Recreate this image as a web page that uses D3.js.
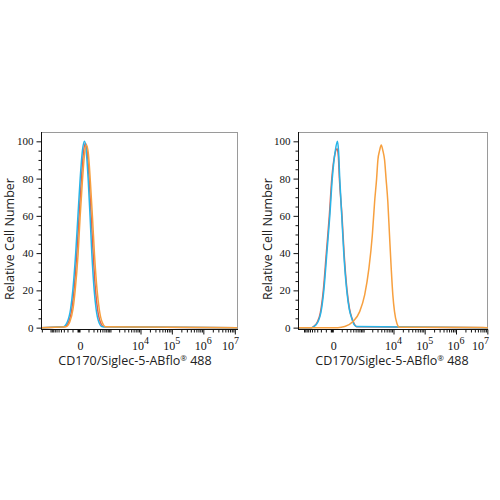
<!DOCTYPE html>
<html>
<head>
<meta charset="utf-8">
<script src="https://cdn.jsdelivr.net/npm/d3@7"></script>
<style>
  html, body { margin: 0; padding: 0; background: #fff; }
  svg { display: block; }
</style>
</head>
<body>
<svg id="chart" width="500" height="500"></svg>
<script>
// ---------- data ----------
const yMajorTicks = [0, 20, 40, 60, 80, 100];
const yMinorTicks = [5, 10, 15, 25, 30, 35, 45, 50, 55, 65, 70, 75, 85, 90, 95];
const xDecadeExponents = [4, 5, 6, 7];
const xTickBase = "10";
const xZeroLabel = "0";
const minorMultipliers = [2, 3, 4, 5, 6, 7, 8, 9];
const xTitle = "CD170/Siglec-5-ABflo";
const xTitleMark = "®";
const xTitleTail = " 488";
const yTitle = "Relative Cell Number";

// left panel
const leftBlueX  = [-2100, -317, -205, -134, -95, -53, -26, -3, 19, 43, 65, 94, 127, 162, 217, 268, 354, 485, 1.2e7];
const leftBlueY  = [0, 0.5, 3, 10, 20, 40, 60, 80, 95, 100, 95, 80, 60, 40, 20, 10, 3, 0.5, 0];
const leftRedX   = [-2100, -274, -175, -112, -77, -39, -15, 7, 30, 56, 81, 112, 150, 191, 251, 311, 410, 561, 1.2e7];
const leftRedY   = [0, 0.5, 3, 10, 20, 40, 59, 79, 94, 99, 94, 79, 59, 40, 20, 10, 3, 0.5, 0];
const leftOrangeX = [-2100, -238, -150, -92, -60, -25, -4, 18, 43, 69, 99, 134, 177, 225, 298, 369, 485, 669, 1.2e7];
const leftOrangeY = [0, 0.5, 3, 10, 20, 39, 59, 78, 93, 98, 93, 78, 59, 39, 20, 10, 3, 0.5, 0];

// right panel
const rightBlueX = [-1600, -503, -418, -280, -200, -136, -84, -43, -15, 15, 39, 52, 69, 100, 136, 200, 266, 344, 418, 535, 1.04e7];
const rightBlueY = [0, 0, 0.5, 3, 8, 20, 40, 60, 80, 95, 100, 95, 80, 60, 40, 20, 10, 5, 2, 0.6, 0];
const rightRedX  = [-1600, -525, -438, -295, -212, -146, -92, -49, -20, 10, 35, 50, 64, 104, 142, 207, 274, 354, 438, 551, 1.04e7];
const rightRedY  = [0, 0, 0.5, 3, 8, 20, 40, 60, 80, 93, 96, 92, 80, 60, 40, 20, 10, 5, 2, 0.5, 0];
const rightOrangeX = [-1600, 43, 156, 391, 717, 1092, 1541, 2012, 2404, 2802, 3089, 3509, 3995, 4512, 5127, 5732, 6551, 7424, 8434, 9514, 10790, 12776, 15560, 1.04e7];
const rightOrangeY = [0, 0, 0.6, 3.3, 8.6, 17.6, 31.9, 49.7, 67.6, 80, 90, 95, 98, 95, 90, 80, 67.6, 49.7, 31.9, 17.6, 8.6, 2.5, 0.2, 0];

const colors = { red: "#E2604C", blue: "#28B4E8", orange: "#F7A03F" };

// ---------- layout ----------
const svg = d3.select("#chart");
const panels = [
  { x0: 41, x1: 238, dom: [-2136, 1.26e7], titleX: 135, yTitleX: 14,
    series: [[leftRedX, leftRedY, colors.red], [leftBlueX, leftBlueY, colors.blue], [leftOrangeX, leftOrangeY, colors.orange]] },
  { x0: 298, x1: 488, dom: [-1624, 1.05e7], titleX: 392, yTitleX: 272,
    series: [[rightRedX, rightRedY, colors.red], [rightBlueX, rightBlueY, colors.blue], [rightOrangeX, rightOrangeY, colors.orange]] }
];
const yTop = 132, yBot = 329.5;
const serif = "'Liberation Serif', 'Times New Roman', serif";
const sans = "'Open Sans', 'Noto Sans', sans-serif";

function minorTicksFor(dom) {
  const t = [];
  [100, 1000].forEach(b => minorMultipliers.concat([1]).forEach(m => {
    const v = -m * b; if (v > dom[0]) t.push(v);
  }));
  minorMultipliers.concat([1]).forEach(m => t.push(m * 100));
  [1e3, 1e4, 1e5, 1e6].forEach(b => minorMultipliers.forEach(m => {
    const v = m * b; if (v < dom[1]) t.push(v);
  }));
  t.push(1e3);
  return t;
}

panels.forEach(p => {
  const x = d3.scaleSymlog().constant(126).domain(p.dom).range([p.x0, p.x1]);
  const y = d3.scaleLinear().domain([-1, 105]).range([yBot, yTop]);
  const g = svg.append("g");

  g.append("line").attr("x1", p.x0).attr("x2", p.x1).attr("y1", yTop + 0.5).attr("y2", yTop + 0.5)
    .attr("stroke", "#9a9a9a").attr("stroke-width", 1);
  g.append("line").attr("x1", p.x1 - 0.5).attr("x2", p.x1 - 0.5).attr("y1", yTop).attr("y2", yBot)
    .attr("stroke", "#9a9a9a").attr("stroke-width", 1);

  const line = d3.line().x(d => x(d[0])).y(d => y(d[1])).curve(d3.curveMonotoneX);
  p.series.forEach(([xs, ys, c]) => {
    const pts = xs.map((v, i) => [v, ys[i]]);
    g.append("path").attr("d", line(pts)).attr("fill", "none")
      .attr("stroke", c).attr("stroke-width", 1.5).attr("stroke-linejoin", "round");
  });

  const ya = g.append("g").attr("transform", `translate(${p.x0 + 0.5},0)`)
    .call(d3.axisLeft(y).tickValues(yMajorTicks).tickSize(5).tickSizeOuter(0).tickPadding(3));
  ya.selectAll("text").attr("font-family", serif).attr("font-size", 11).attr("fill", "#111");
  ya.select(".domain").attr("d", `M0,${yTop}V${yBot}`).attr("stroke", "#111");
  ya.selectAll(".tick line").attr("stroke", "#111");
  const ym = g.append("g").attr("transform", `translate(${p.x0 + 0.5},0)`)
    .call(d3.axisLeft(y).tickValues(yMinorTicks).tickSize(3).tickFormat(""));
  ym.select(".domain").remove();
  ym.selectAll(".tick line").attr("stroke", "#111");

  const xa = g.append("g").attr("transform", `translate(0,${yBot})`)
    .call(d3.axisBottom(x).tickValues(xDecadeExponents.map(e => Math.pow(10, e))).tickSize(5).tickSizeOuter(0).tickFormat(""));
  xa.select(".domain").attr("d", `M${p.x0},0H${p.x1}`).attr("stroke", "#111");
  xa.selectAll(".tick line").attr("stroke", "#111");
  const xm = g.append("g").attr("transform", `translate(0,${yBot})`)
    .call(d3.axisBottom(x).tickValues(minorTicksFor(p.dom)).tickSize(3).tickFormat(""));
  xm.select(".domain").remove();
  xm.selectAll(".tick line").attr("stroke", "#111");
  g.append("rect").attr("x", x(0) - 3).attr("y", yBot).attr("width", 3).attr("height", 3).attr("fill", "#111");

  const lab = g.append("g").attr("font-family", serif).attr("font-size", 12).attr("fill", "#111");
  lab.append("text").attr("x", x(0)).attr("y", yBot + 20).attr("text-anchor", "middle").text(xZeroLabel);
  xDecadeExponents.forEach((e, i) => {
    const last = i === xDecadeExponents.length - 1;
    const t = lab.append("text")
      .attr("x", last ? p.x1 + 1 : x(Math.pow(10, e)))
      .attr("y", yBot + 20).attr("text-anchor", last ? "end" : "middle");
    t.append("tspan").text(xTickBase);
    t.append("tspan").attr("font-size", 10).attr("dy", -6).text(String(e));
  });

  const xt = g.append("text").attr("x", p.titleX).attr("y", yBot + 35).attr("text-anchor", "middle")
    .attr("font-family", sans).attr("font-size", 12.5).attr("fill", "#222");
  xt.append("tspan").text(xTitle);
  xt.append("tspan").attr("font-size", 8).attr("dy", -4).text(xTitleMark);
  xt.append("tspan").attr("dy", 4).text(xTitleTail);

  g.append("text").attr("transform", `translate(${p.yTitleX},239) rotate(-90)`).attr("text-anchor", "middle")
    .attr("font-family", sans).attr("font-size", 12.5).attr("fill", "#222").text(yTitle);
});
</script>
</body>
</html>
